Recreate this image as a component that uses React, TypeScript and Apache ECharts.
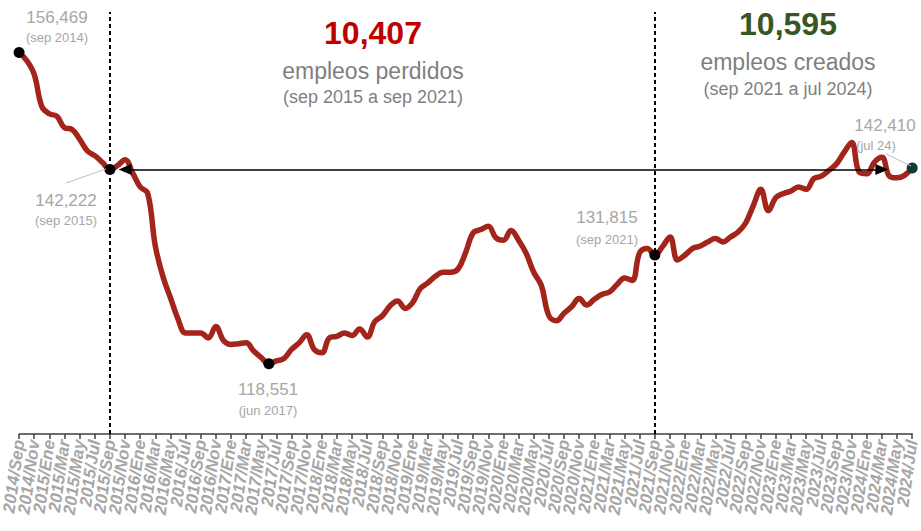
import React, { useEffect, useRef } from "react";
import * as echarts from "echarts";

const MONTHS = ["Ene", "Feb", "Mar", "Abr", "May", "Jun", "Jul", "Ago", "Sep", "Oct", "Nov", "Dic"];
const START_YEAR = 2014;
const START_MONTH = 8; // Sep

const employment = [
  156469, 155500, 153800, 149900, 149000, 148700, 147300, 147100, 145900, 144500, 143900, 143100, 142222,
  142700, 143400, 141800, 140100, 139300, 132900, 129200, 126600, 124000, 122300, 122300, 122300, 121700,
  123100, 121400, 120900, 121000, 121100, 120100, 119300, 118551, 118900, 119200, 120300, 121100, 122100,
  120300, 119900, 121700, 121900, 122300, 122000, 122800, 121800, 123700, 124400, 125600, 126200, 125300,
  126000, 127700, 128400, 129200, 129700, 129700, 130100, 132100, 134500, 134900, 135300, 133900, 133600,
  134800, 133600, 132000, 129700, 128100, 124400, 123800, 124700, 125500, 126500, 125700, 126400, 127000,
  127300, 128200, 129000, 128700, 132100, 132600, 131815, 132800, 134000, 131200, 131800, 132600, 132900,
  133400, 133800, 133400, 134000, 134600, 135700, 137800, 139800, 137200, 138800, 139300, 139600, 140100,
  139800, 141100, 141400, 142100, 142900, 144300, 145500, 141900, 141700, 143100, 143700, 141400, 141200,
  141500, 142410,
];

const categories = employment.map((_, i) => {
  const m = START_MONTH + i;
  return `${START_YEAR + Math.floor(m / 12)}/${MONTHS[m % 12]}`;
});

const markedIdx = [0, 12, 33, 84];
const lastIdx = employment.length - 1;
const periodLines = [12, 84];
const arrowFrom = 14;
const arrowTo = 114;

const RED = "#A3241A";
const GRAY = "#A6A6A6";
const DGRAY = "#7F7F7F";
const FONT = "'Liberation Sans', Arial, sans-serif";

function txt(text: string, x: number, y: number, size: number, color: string, weight = "normal") {
  return {
    type: "text",
    x,
    y,
    z: 100,
    style: {
      text,
      fill: color,
      font: `${weight} ${size}px ${FONT}`,
      align: "center",
      verticalAlign: "middle",
      textAlign: "center",
      textVerticalAlign: "middle",
    },
  };
}

function leader(x1: number, y1: number, x2: number, y2: number) {
  return {
    type: "line",
    z: 100,
    shape: { x1, y1, x2, y2 },
    style: { stroke: "#BFBFBF", lineWidth: 1 },
  };
}

export default function App() {
  const ref = useRef<HTMLDivElement>(null);
  useEffect(() => {
    if (!ref.current) return;
    const chart = echarts.init(ref.current, null, { renderer: "svg" });
    chart.setOption({
      animation: false,
      backgroundColor: "#ffffff",
      grid: { left: 17, right: 8, top: 12, bottom: 97, containLabel: false },
      xAxis: {
        type: "category",
        data: categories,
        boundaryGap: false,
        axisLine: { lineStyle: { color: "#3F3F3F", width: 1.5 } },
        axisTick: { interval: 1, length: 5, lineStyle: { color: "#3F3F3F", width: 1.5 } },
        axisLabel: {
          interval: 0,
          formatter: (value: string, index: number) => (index % 2 === 0 ? value : ""),
          showMinLabel: true,
          showMaxLabel: true,
          hideOverlap: false,
          rotate: 82,
          margin: 6,
          color: GRAY,
          fontSize: 17,
          fontWeight: "bold",
          fontStyle: "italic",
          fontFamily: FONT,
        },
        splitLine: { show: false },
      },
      yAxis: {
        type: "value",
        min: 110000,
        max: 161400,
        show: false,
        splitLine: { show: false },
      },
      series: [
        {
          type: "line",
          data: employment,
          smooth: 0.4,
          showSymbol: false,
          symbol: "none",
          lineStyle: { color: RED, width: 5.5 },
          z: 3,
          markLine: {
            silent: true,
            symbol: "none",
            label: { show: false },
            lineStyle: { color: "#000000", width: 2, type: [4, 3] },
            data: periodLines.map((i) => ({ xAxis: i })),
            z: 1,
          },
        },
        {
          type: "scatter",
          data: markedIdx.map((i) => [i, employment[i]]),
          symbolSize: 11,
          itemStyle: { color: "#000000", opacity: 1 },
          z: 5,
          markLine: {
            silent: true,
            symbol: ["triangle", "triangle"],
            symbolSize: [11, 13],
            label: { show: false },
            lineStyle: { color: "#000000", width: 1.5, type: "solid" },
            data: [
              [
                { coord: [arrowFrom, employment[12]] },
                { coord: [arrowTo, employment[12]] },
              ],
            ],
          },
        },
        {
          type: "scatter",
          data: [[lastIdx, employment[lastIdx]]],
          symbolSize: 11,
          itemStyle: { color: "#0F3A33", opacity: 1 },
          z: 5,
        },
      ],
      graphic: [
        txt("156,469", 57, 17, 17, GRAY),
        txt("(sep 2014)", 57, 37, 13, GRAY),
        txt("142,222", 66, 200, 17, GRAY),
        txt("(sep 2015)", 66, 220, 13, GRAY),
        leader(66, 183, 106, 169),
        txt("118,551", 268, 389, 17, GRAY),
        txt("(jun 2017)", 268, 410, 13, GRAY),
        txt("131,815", 607, 217, 17, GRAY),
        txt("(sep 2021)", 607, 239, 13, GRAY),
        txt("142,410", 885, 125, 17, GRAY),
        txt("(jul 24)", 876, 145, 13, GRAY),
        leader(886, 154, 911, 166),
        txt("10,407", 373, 33, 32, "#C00000", "bold"),
        txt("empleos perdidos", 373, 71, 23, DGRAY),
        txt("(sep 2015 a sep 2021)", 373, 97, 18, DGRAY),
        txt("10,595", 788, 24, 32, "#375623", "bold"),
        txt("empleos creados", 788, 62, 23, DGRAY),
        txt("(sep 2021 a jul 2024)", 788, 89, 18, DGRAY),
      ],
    });
    return () => chart.dispose();
  }, []);
  return (
    <div
      ref={ref}
      style={{ position: "fixed", left: 0, top: 0, width: 921, height: 531, background: "#fff" }}
    />
  );
}
